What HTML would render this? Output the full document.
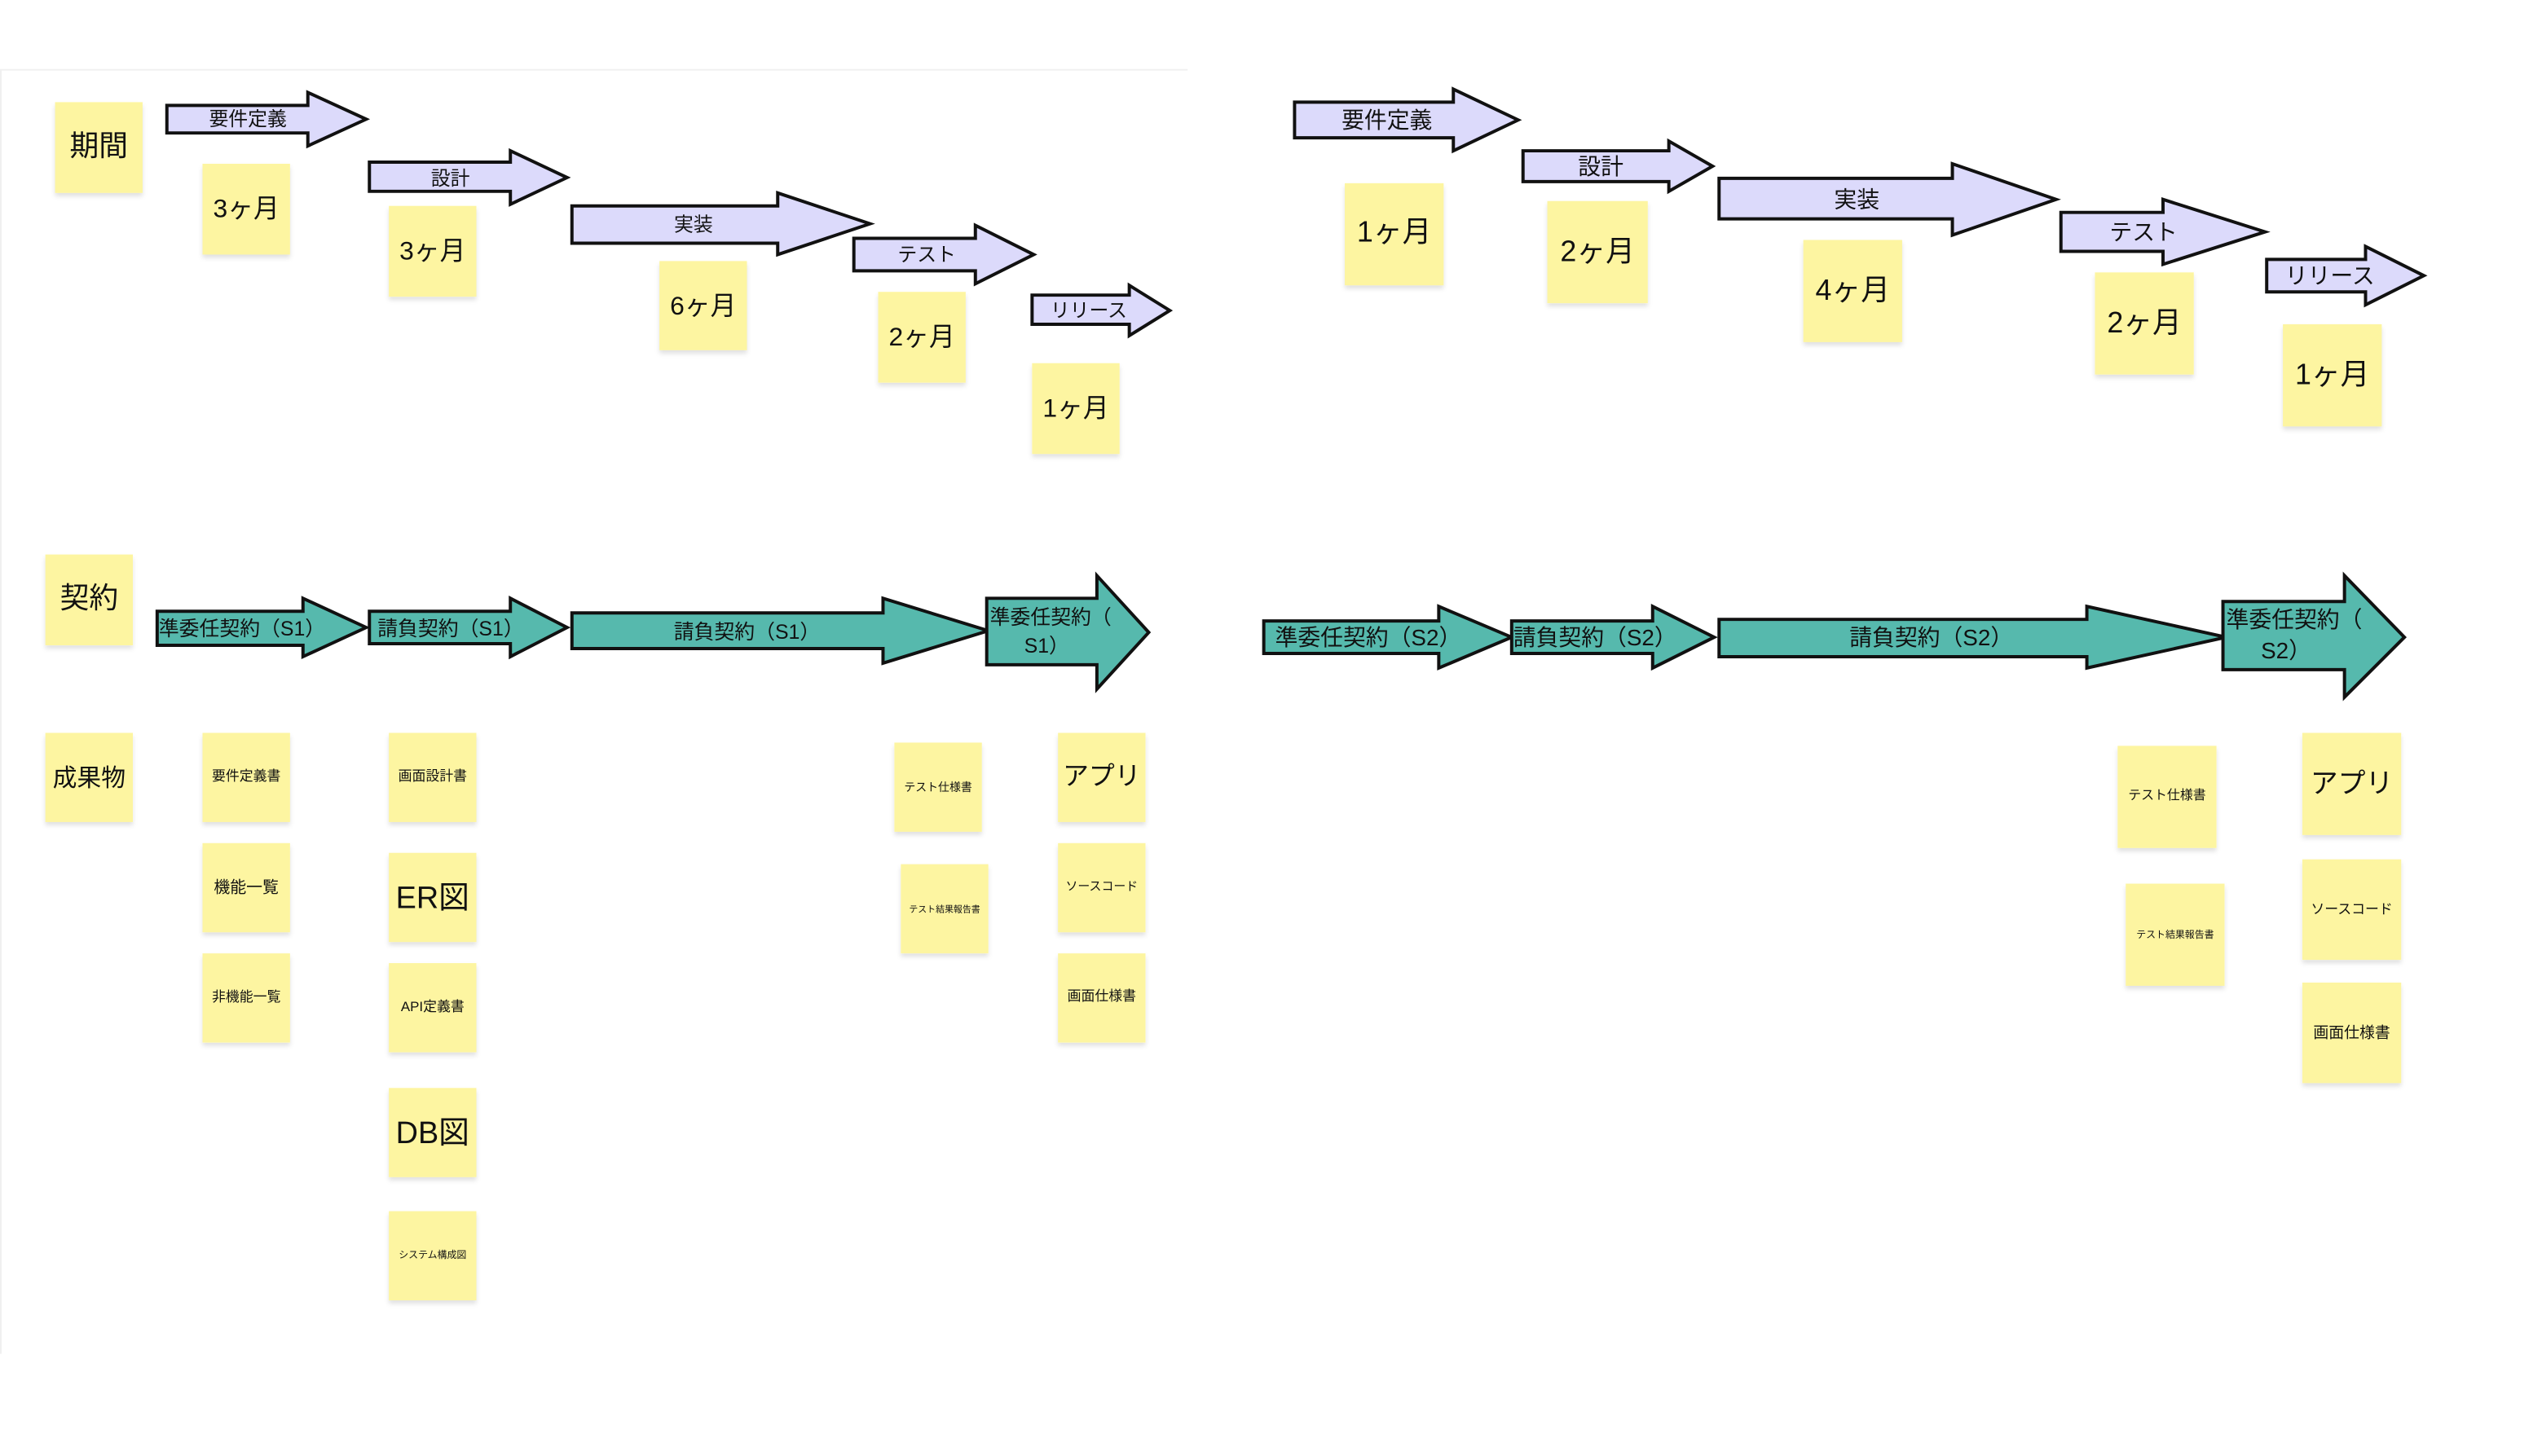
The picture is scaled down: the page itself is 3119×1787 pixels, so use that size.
<!DOCTYPE html>
<html><head><meta charset="utf-8"><style>
html,body{margin:0;padding:0;background:#fff;}
svg{display:block;}
text{font-family:"Liberation Sans","Noto Sans CJK JP",sans-serif;fill:#111;}
.s{fill:#fdf5a1;}
.p{fill:#dcdafb;stroke:#111;stroke-width:4;}
.t{fill:#56b9ad;stroke:#111;stroke-width:4;}
</style></head><body>
<svg width="3119" height="1787" viewBox="0 0 3119 1787" xmlns="http://www.w3.org/2000/svg">
<defs><filter id="sh" x="-10%" y="-10%" width="130%" height="130%"><feDropShadow dx="0" dy="4" stdDeviation="3" flood-color="#000" flood-opacity="0.12"/></filter></defs>
<g transform="scale(0.994,0.995)">
<line x1="0" y1="86" x2="1466" y2="86" stroke="#f0f0f0" stroke-width="2"/>
<line x1="1" y1="86" x2="1" y2="1670" stroke="#f0f0f0" stroke-width="2"/>

<polygon class="p" points="206,130 380,130 380,114 452,147 380,180 380,164 206,164"/>
<text x="306" y="155" font-size="24" text-anchor="middle">要件定義</text>
<polygon class="p" points="456,200 630,200 630,186 700,219 630,252 630,236 456,236"/>
<text x="556" y="228" font-size="24" text-anchor="middle">設計</text>
<polygon class="p" points="706,254 960,254 960,238 1074,276 960,314 960,300 706,300"/>
<text x="856" y="285" font-size="24" text-anchor="middle">実装</text>
<polygon class="p" points="1054,294 1204,294 1204,278 1276,314 1204,350 1204,334 1054,334"/>
<text x="1144" y="322" font-size="24" text-anchor="middle">テスト</text>
<polygon class="p" points="1274,364 1394,364 1394,352 1444,383 1394,414 1394,400 1274,400"/>
<text x="1344" y="391" font-size="24" text-anchor="middle">リリース</text>

<polygon class="p" points="1598,126 1794,126 1794,110 1874,148 1794,186 1794,170 1598,170"/>
<text x="1712" y="158" font-size="28" text-anchor="middle">要件定義</text>
<polygon class="p" points="1880,186 2060,186 2060,174 2114,205 2060,236 2060,224 1880,224"/>
<text x="1976" y="215" font-size="28" text-anchor="middle">設計</text>
<polygon class="p" points="2122,220 2410,220 2410,202 2538,246 2410,290 2410,270 2122,270"/>
<text x="2292" y="256" font-size="28" text-anchor="middle">実装</text>
<polygon class="p" points="2544,262 2670,262 2670,246 2796,286 2670,326 2670,310 2544,310"/>
<text x="2646" y="296" font-size="28" text-anchor="middle">テスト</text>
<polygon class="p" points="2798,320 2920,320 2920,304 2992,340 2920,376 2920,360 2798,360"/>
<text x="2876" y="350" font-size="28" text-anchor="middle">リリース</text>

<polygon class="t" points="194,754 374,754 374,738 452,774 374,810 374,796 194,796"/>
<text x="196" y="784" font-size="25">準委任契約（S1）</text>
<polygon class="t" points="456,754 630,754 630,738 700,774 630,810 630,794 456,794"/>
<text x="466" y="784" font-size="25">請負契約（S1）</text>
<polygon class="t" points="706,756 1090,756 1090,738 1220,778 1090,818 1090,800 706,800"/>
<text x="922" y="788" font-size="25" text-anchor="middle">請負契約（S1）</text>
<polygon class="t" points="1218,738 1354,738 1354,710 1418,780 1354,850 1354,820 1218,820"/>
<text x="1222" y="770" font-size="25">準委任契約（</text>
<text x="1292" y="805" font-size="25" text-anchor="middle">S1）</text>

<polygon class="t" points="1560,766 1776,766 1776,748 1866,786 1776,824 1776,806 1560,806"/>
<text x="1574" y="796" font-size="28">準委任契約（S2）</text>
<polygon class="t" points="1866,766 2040,766 2040,748 2116,786 2040,824 2040,806 1866,806"/>
<text x="1868" y="796" font-size="28">請負契約（S2）</text>
<polygon class="t" points="2122,764 2576,764 2576,748 2748,786 2576,824 2576,810 2122,810"/>
<text x="2384" y="796" font-size="28" text-anchor="middle">請負契約（S2）</text>
<polygon class="t" points="2744,742 2894,742 2894,710 2968,786 2894,860 2894,826 2744,826"/>
<text x="2748" y="774" font-size="28">準委任契約（</text>
<text x="2822" y="812" font-size="28" text-anchor="middle">S2）</text>

<g filter="url(#sh)">
<rect class="s" x="68" y="126" width="108" height="112"/>
<rect class="s" x="250" y="202" width="108" height="112"/>
<rect class="s" x="480" y="254" width="108" height="112"/>
<rect class="s" x="814" y="322" width="108" height="110"/>
<rect class="s" x="1084" y="360" width="108" height="112"/>
<rect class="s" x="1274" y="448" width="108" height="112"/>
<rect class="s" x="1660" y="226" width="122" height="126"/>
<rect class="s" x="1910" y="248" width="124" height="126"/>
<rect class="s" x="2226" y="296" width="122" height="126"/>
<rect class="s" x="2586" y="336" width="122" height="126"/>
<rect class="s" x="2818" y="400" width="122" height="126"/>
<rect class="s" x="56" y="684" width="108" height="112"/>
<rect class="s" x="56" y="904" width="108" height="110"/>
<rect class="s" x="250" y="904" width="108" height="110"/>
<rect class="s" x="250" y="1040" width="108" height="110"/>
<rect class="s" x="250" y="1176" width="108" height="110"/>
<rect class="s" x="480" y="904" width="108" height="110"/>
<rect class="s" x="480" y="1052" width="108" height="110"/>
<rect class="s" x="480" y="1188" width="108" height="110"/>
<rect class="s" x="480" y="1342" width="108" height="110"/>
<rect class="s" x="480" y="1494" width="108" height="110"/>
<rect class="s" x="1104" y="916" width="108" height="110"/>
<rect class="s" x="1112" y="1066" width="108" height="110"/>
<rect class="s" x="1306" y="904" width="108" height="110"/>
<rect class="s" x="1306" y="1040" width="108" height="110"/>
<rect class="s" x="1306" y="1176" width="108" height="110"/>
<rect class="s" x="2614" y="920" width="122" height="126"/>
<rect class="s" x="2624" y="1090" width="122" height="126"/>
<rect class="s" x="2842" y="904" width="122" height="126"/>
<rect class="s" x="2842" y="1060" width="122" height="124"/>
<rect class="s" x="2842" y="1212" width="122" height="124"/>
</g>

<g text-anchor="middle">
<text x="122" y="192" font-size="36">期間</text>
<text x="304" y="268" font-size="32">3ヶ月</text>
<text x="534" y="320" font-size="32">3ヶ月</text>
<text x="868" y="388" font-size="32">6ヶ月</text>
<text x="1138" y="426" font-size="32">2ヶ月</text>
<text x="1328" y="514" font-size="32">1ヶ月</text>

<text x="1721" y="298" font-size="36">1ヶ月</text>
<text x="1972" y="322" font-size="36">2ヶ月</text>
<text x="2287" y="370" font-size="36">4ヶ月</text>
<text x="2647" y="410" font-size="36">2ヶ月</text>
<text x="2879" y="474" font-size="36">1ヶ月</text>

<text x="110" y="750" font-size="36">契約</text>
<text x="110" y="970" font-size="30">成果物</text>
<text x="304" y="963" font-size="17">要件定義書</text>
<text x="304" y="1101" font-size="20">機能一覧</text>
<text x="304" y="1235" font-size="17">非機能一覧</text>
<text x="534" y="963" font-size="17">画面設計書</text>
<text x="534" y="1120" font-size="38">ER図</text>
<text x="534" y="1247" font-size="17">API定義書</text>
<text x="534" y="1410" font-size="38">DB図</text>
<text x="534" y="1552" font-size="12">システム構成図</text>
<text x="1158" y="976" font-size="14">テスト仕様書</text>
<text x="1166" y="1125" font-size="11">テスト結果報告書</text>
<text x="1360" y="968" font-size="32">アプリ</text>
<text x="1360" y="1098" font-size="15">ソースコード</text>
<text x="1360" y="1234" font-size="17">画面仕様書</text>

<text x="2675" y="986" font-size="16">テスト仕様書</text>
<text x="2685" y="1157" font-size="12">テスト結果報告書</text>
<text x="2903" y="978" font-size="34">アプリ</text>
<text x="2903" y="1127" font-size="17">ソースコード</text>
<text x="2903" y="1280" font-size="19">画面仕様書</text>
</g>
</g>
</svg>
</body></html>
